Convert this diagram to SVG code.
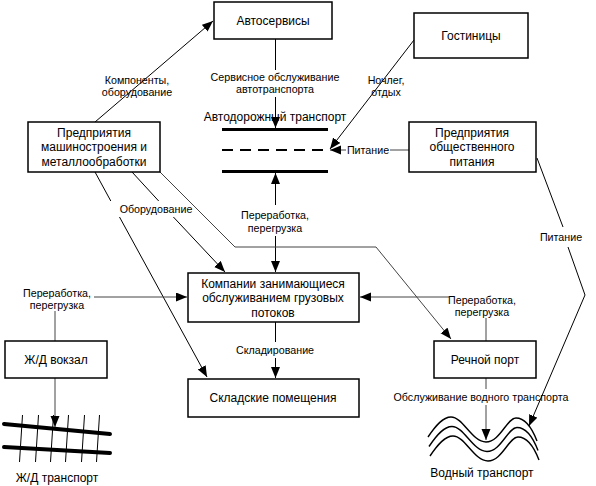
<svg xmlns="http://www.w3.org/2000/svg" width="596" height="486" viewBox="0 0 596 486">
<style>
  .box{fill:#fff;stroke:#000;stroke-width:1.5}
  .t{font-family:"Liberation Sans",Arial,sans-serif;font-size:12px;fill:#000;text-anchor:middle}
  .l{font-family:"Liberation Sans",Arial,sans-serif;font-size:10.7px;fill:#000;text-anchor:middle}
  .c{fill:none;stroke:#000;stroke-width:1}
  .g{fill:none;stroke:#444;stroke-width:1}
  .road{stroke:#000;stroke-width:3;fill:none}
  .rail{stroke:#000;stroke-width:4;fill:none;stroke-linecap:round}
  .tie{stroke:#000;stroke-width:1;fill:none}
  .wave{stroke:#000;stroke-width:1.4;fill:none}
</style>
<defs>
  <marker id="ah" markerUnits="userSpaceOnUse" markerWidth="12" markerHeight="10" refX="11" refY="4.5" orient="auto-start-reverse">
    <path d="M0,0 L11,4.5 L0,9 z" fill="#000"/>
  </marker>
</defs>
<rect width="596" height="486" fill="#fff"/>

<g id="connectors">
  <path class="c" d="M95,122 L213,21" marker-end="url(#ah)"/>
  <path class="c" d="M275.5,39 L275.5,70 M275.5,97 L275.5,128" marker-end="url(#ah)"/>
  <path class="c" d="M414,40 L330,149" marker-end="url(#ah)"/>
  <path class="g" d="M409,150 L390,150 M346,150 L330,150" marker-end="url(#ah)"/>
  <path class="c" d="M537,158 L563,227 M568,247 L585,295 L529,426" marker-end="url(#ah)"/>
  <path class="c" d="M275.5,173 L275.5,205 M275.5,236 L275.5,272" marker-start="url(#ah)" marker-end="url(#ah)"/>
  <path class="c" d="M95,172 L110.8,201 M119.5,217 L207,377" marker-end="url(#ah)"/>
  <path class="c" d="M132,172 L158.7,201 M173.4,217 L225,272" marker-end="url(#ah)"/>
  <path class="g" d="M160,172 L235,247 L376,247 L451,339" marker-end="url(#ah)"/>
  <path class="g" d="M55,341 L55,311 M94,297 L187,297" marker-end="url(#ah)"/>
  <path class="g" d="M55,378 L55,427" marker-end="url(#ah)"/>
  <path class="g" d="M486,341 L486,318 M449,297 L360,297" marker-end="url(#ah)"/>
  <path class="g" d="M486,378 L486,389 M486,405 L486,440" marker-end="url(#ah)"/>
  <path class="c" d="M275.5,322 L275.5,342 M275.5,358 L275.5,378" marker-end="url(#ah)"/>
</g>

<g id="labels">
  <text class="l" x="137" y="83.5">Компоненты,</text>
  <text class="l" x="137" y="95.5">оборудование</text>
  <text class="l" x="275" y="80.5">Сервисное обслуживание</text>
  <text class="l" x="275" y="92.5">автотранспорта</text>
  <text class="l" x="386" y="83.5">Ночлег,</text>
  <text class="l" x="386" y="95.5">отдых</text>
  <text class="l" x="368" y="153.5">Питание</text>
  <text class="l" x="561" y="240.5">Питание</text>
  <text class="l" x="156" y="212.5">Оборудование</text>
  <text class="l" x="275" y="219">Переработка,</text>
  <text class="l" x="275" y="231.5">перегрузка</text>
  <text class="l" x="57" y="296.5">Переработка,</text>
  <text class="l" x="57" y="308.5">перегрузка</text>
  <text class="l" x="482" y="303.5">Переработка,</text>
  <text class="l" x="482" y="315.5">перегрузка</text>
  <text class="l" x="275" y="353.5">Складирование</text>
  <text class="l" x="481" y="400.5">Обслуживание водного транспорта</text>
</g>

<g id="avtoservisy">
  <rect class="box" x="214" y="2" width="118" height="37"/>
  <text class="t" x="273" y="24.5">Автосервисы</text>
</g>
<g id="gostinitsy">
  <rect class="box" x="414" y="13" width="114" height="45"/>
  <text class="t" x="471" y="39.5">Гостиницы</text>
</g>
<g id="mashinostroenie">
  <rect class="box" x="28" y="122" width="132" height="50"/>
  <text class="t" x="94" y="136.5">Предприятия</text>
  <text class="t" x="94" y="151">машиностроения и</text>
  <text class="t" x="94" y="165.5">металлообработки</text>
</g>
<g id="pitanie">
  <rect class="box" x="409" y="122" width="127" height="50"/>
  <text class="t" x="472" y="136.5">Предприятия</text>
  <text class="t" x="472" y="151">общественного</text>
  <text class="t" x="472" y="165.5">питания</text>
</g>
<g id="avtodorozhny">
  <line class="road" x1="222" y1="129.5" x2="328" y2="129.5"/>
  <line x1="222" y1="150" x2="328" y2="150" stroke="#000" stroke-width="2" stroke-dasharray="11 7"/>
  <line class="road" x1="222" y1="171.5" x2="328" y2="171.5"/>
  <text class="t" x="275" y="121">Автодорожный транспорт</text>
</g>
<g id="kompanii">
  <rect class="box" x="188" y="273" width="171" height="49"/>
  <text class="t" x="273" y="287.5">Компании занимающиеся</text>
  <text class="t" x="273" y="302">обслуживанием грузовых</text>
  <text class="t" x="273" y="316.5">потоков</text>
</g>
<g id="skladskie">
  <rect class="box" x="188" y="379" width="171" height="38"/>
  <text class="t" x="273" y="402">Складские помещения</text>
</g>
<g id="zhd-vokzal">
  <rect class="box" x="5" y="341" width="102" height="37"/>
  <text class="t" x="56" y="364">Ж/Д вокзал</text>
</g>
<g id="rechnoy-port">
  <rect class="box" x="434" y="341" width="102" height="37"/>
  <text class="t" x="485" y="364">Речной порт</text>
</g>
<g id="zhd-transport">
  <line class="tie" x1="22.5" y1="415" x2="19.5" y2="462"/>
  <line class="tie" x1="38.5" y1="415" x2="35.5" y2="462"/>
  <line class="tie" x1="53.5" y1="415" x2="50.5" y2="462"/>
  <line class="tie" x1="68.5" y1="415" x2="65.5" y2="462"/>
  <line class="tie" x1="84.5" y1="415" x2="81.5" y2="462"/>
  <line class="tie" x1="99.5" y1="415" x2="96.5" y2="462"/>
  <line class="rail" x1="4" y1="424" x2="110" y2="434"/>
  <line class="rail" x1="4" y1="447" x2="110" y2="453"/>
  <text class="t" x="57" y="482">Ж/Д транспорт</text>
</g>
<g id="vodny-transport">
  <path class="wave" d="M428,437 C436,425 443,417 451,417 C463,417 472,442 486,442 C500,442 507,418 516,418 C525,418 532,428 537,441"/>
  <path class="wave" transform="translate(1,9.5)" d="M428,437 C436,425 443,417 451,417 C463,417 472,442 486,442 C500,442 507,418 516,418 C525,418 532,428 537,441"/>
  <path class="wave" transform="translate(2,19)" d="M428,437 C436,425 443,417 451,417 C463,417 472,442 486,442 C500,442 507,418 516,418 C525,418 532,428 537,441"/>
  <text class="t" x="482" y="477">Водный транспорт</text>
</g>
</svg>
